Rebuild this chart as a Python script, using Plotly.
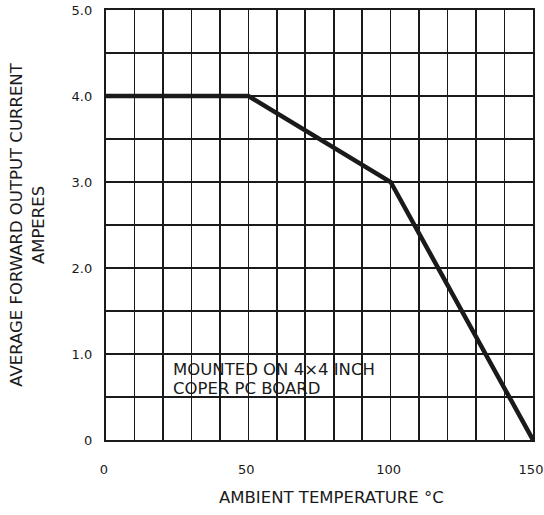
import plotly.graph_objects as go

# Derating curve data
temperature_c = [0, 50, 100, 150]
current_a = [4.0, 4.0, 3.0, 0.0]

x_tick_vals = [0, 50, 100, 150]
x_tick_text = ["0", "50", "100", "150"]
y_tick_vals = [0, 1, 2, 3, 4, 5]
y_tick_text = ["0", "1.0", "2.0", "3.0", "4.0", "5.0"]

x_title = "AMBIENT TEMPERATURE °C"
y_title = "AVERAGE FORWARD OUTPUT CURRENT<br>AMPERES"
note_lines = ["MOUNTED ON 4×4 INCH", "COPER PC BOARD"]
note_y = [0.82, 0.60]

FONT = "DejaVu Sans, Liberation Sans, Arial, sans-serif"
INK = "#1a1a1a"

fig = go.Figure()
fig.add_trace(go.Scatter(
    x=temperature_c, y=current_a, mode="lines",
    line=dict(color=INK, width=4.5), showlegend=False, hoverinfo="skip",
))

fig.update_layout(
    width=544, height=515,
    margin=dict(l=106, r=11, t=10, b=75, autoexpand=False),
    paper_bgcolor="white", plot_bgcolor="white",
    font=dict(family=FONT, color=INK, size=13),
    xaxis=dict(
        range=[0, 150], tickvals=x_tick_vals, ticktext=x_tick_text,
        showgrid=True, gridcolor=INK, gridwidth=1.6,
        minor=dict(dtick=10, showgrid=True, gridcolor=INK, gridwidth=1.6),
        zeroline=False, showline=True, linecolor=INK, linewidth=2.2, mirror=True,
        ticks="", ticklabelstandoff=16, ticklabelshift=-2,
        ticklabeloverflow="allow", automargin=False,
        tickfont=dict(size=13, family=FONT, color=INK),
    ),
    yaxis=dict(
        range=[0, 5], tickvals=y_tick_vals, ticktext=y_tick_text,
        showgrid=True, gridcolor=INK, gridwidth=1.6,
        minor=dict(dtick=0.5, showgrid=True, gridcolor=INK, gridwidth=1.6),
        zeroline=False, showline=True, linecolor=INK, linewidth=2.2, mirror=True,
        ticks="", ticklabelstandoff=9, ticklabeloverflow="allow", automargin=False,
        tickfont=dict(size=13, family=FONT, color=INK),
        title=dict(text=y_title, standoff=23,
                   font=dict(size=16.5, family=FONT, color=INK)),
    ),
    annotations=[
        dict(x=0.527, y=0, xref="paper", yref="paper", xanchor="center",
             yanchor="middle", yshift=-57, text=x_title, showarrow=False,
             font=dict(size=16.5, family=FONT, color=INK))
    ] + [
        dict(x=23, y=yv, xref="x", yref="y", xanchor="left", yanchor="middle",
             text=t, showarrow=False, align="left",
             font=dict(size=16.5, family=FONT, color=INK))
        for t, yv in zip(note_lines, note_y)
    ],
)

fig.write_html(
    "out.html",
    config={"displayModeBar": False, "staticPlot": True},
    post_script="document.body.style.margin='0';document.body.style.overflow='hidden';",
)
